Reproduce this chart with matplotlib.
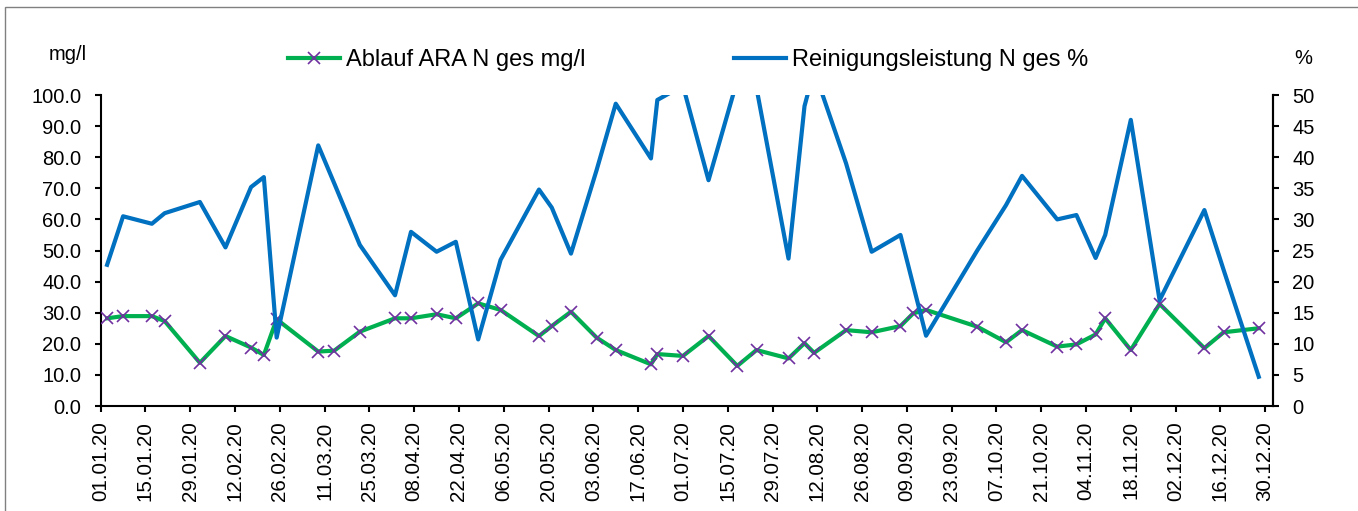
import matplotlib
matplotlib.use("Agg")
import matplotlib.pyplot as plt
import matplotlib.dates as mdates
from matplotlib.patches import Rectangle
import pandas as pd

plt.rcParams['font.family'] = ['Liberation Sans', 'DejaVu Sans']

dates = ["03.01.20", "08.01.20", "17.01.20", "21.01.20", "01.02.20", "09.02.20",
         "17.02.20", "21.02.20", "25.02.20", "09.03.20", "14.03.20", "22.03.20",
         "02.04.20", "07.04.20", "15.04.20", "21.04.20", "28.04.20", "05.05.20",
         "17.05.20", "21.05.20", "27.05.20", "04.06.20", "10.06.20", "21.06.20",
         "23.06.20", "01.07.20", "09.07.20", "18.07.20", "24.07.20", "03.08.20",
         "08.08.20", "11.08.20", "21.08.20", "29.08.20", "07.09.20", "11.09.20",
         "15.09.20", "01.10.20", "10.10.20", "15.10.20", "26.10.20", "01.11.20",
         "07.11.20", "10.11.20", "18.11.20", "27.11.20", "11.12.20", "17.12.20",
         "28.12.20"]

ablauf_n_ges = [28.2, 28.9, 28.9, 27.3, 13.9, 22.5, 18.8, 16.4, 27.9, 17.5,
                17.8, 23.9, 28.2, 28.2, 29.5, 28.2, 33.0, 30.9, 22.5, 25.7,
                30.3, 22.0, 18.0, 13.4, 16.7, 16.1, 22.5, 12.9, 18.0, 15.3,
                20.2, 17.1, 24.4, 23.7, 25.7, 29.8, 30.9, 25.5, 20.5, 24.4,
                19.1, 19.8, 23.0, 28.2, 18.0, 32.8, 18.6, 23.7, 25.0]

reinigung_n_ges = [22.7, 30.5, 29.3, 31.0, 32.8, 25.5, 35.2, 36.8, 11.0, 41.9,
                   35.8, 25.9, 17.8, 28.0, 24.8, 26.4, 10.7, 23.5, 34.8, 31.9,
                   24.5, 37.9, 48.6, 39.8, 49.2, 51.5, 36.3, 52.4, 51.1, 23.7,
                   48.2, 54.0, 39.0, 24.8, 27.5, 19.4, 11.3, 25.0, 32.3, 37.0,
                   30.0, 30.7, 23.8, 27.5, 46.0, 17.0, 31.5, 21.9, 4.7]

label_green = "Ablauf ARA N ges mg/l"
label_blue = "Reinigungsleistung N ges %"
left_unit = "mg/l"
right_unit = "%"

x = pd.to_datetime(dates, format="%d.%m.%y")

W, H = 1358, 511
fig = plt.figure(figsize=(W / 100, H / 100), dpi=100)
ax = fig.add_axes([100.7 / W, 1 - 406 / H, (1273 - 100.7) / W, (406 - 95) / H])
ax2 = ax.twinx()

# outer frame
fig.patches.append(Rectangle((5 / W, -0.1), 1.2, 1 - 7 / H + 0.1, transform=fig.transFigure,
                             fill=False, edgecolor='#808080', linewidth=1.0))

l1, = ax.plot(x, ablauf_n_ges, color='#00B050', linewidth=3.0, marker='x',
              markersize=8, markeredgecolor='#7030A0', markeredgewidth=1.2,
              label=label_green, zorder=3)
l2, = ax2.plot(x, reinigung_n_ges, color='#0070C0', linewidth=3.0,
               label=label_blue, zorder=3)

start = pd.Timestamp("2020-01-01")
ax.set_xlim(start, start + pd.Timedelta(days=366.45))
ax.set_ylim(0, 100)
ax2.set_ylim(0, 50)
ax.set_yticks([i * 10 for i in range(11)])
ax2.set_yticks([i * 5 for i in range(11)])
ax.yaxis.set_major_formatter(matplotlib.ticker.FormatStrFormatter('%.1f'))
ax2.yaxis.set_major_formatter(matplotlib.ticker.FormatStrFormatter('%d'))

ticks = pd.date_range("2020-01-01", "2020-12-30", freq="14D")
ax.set_xticks(ticks)
ax.xaxis.set_major_formatter(mdates.DateFormatter('%d.%m.%y'))
for lab in ax.get_xticklabels():
    lab.set_rotation(90)

for a in (ax, ax2):
    a.spines['top'].set_visible(False)
    for s in a.spines.values():
        s.set_linewidth(1.5)
        s.set_color('black')
    a.tick_params(axis='both', direction='out', length=4.5, width=1.5,
                  labelsize=14.5, colors='black', pad=9.5)
ax.tick_params(axis='x', pad=6.5, labelsize=14.8)
ax2.spines['left'].set_visible(False)
ax2.spines['bottom'].set_visible(False)

fig.text(68 / W, 1 - 54 / H, left_unit, ha='center', va='center', fontsize=14.5)
fig.text(1303 / W, 1 - 58 / H, right_unit, ha='center', va='center', fontsize=14.5)

fig.legend([l1, l2], [label_green, label_blue], loc='center',
           bbox_to_anchor=(688 / W, 1 - 60 / H), ncol=2, frameon=False,
           fontsize=17, handlelength=2.2, handletextpad=0.25,
           columnspacing=6.3, borderpad=0, borderaxespad=0)

fig.savefig("out.png", dpi=100)
